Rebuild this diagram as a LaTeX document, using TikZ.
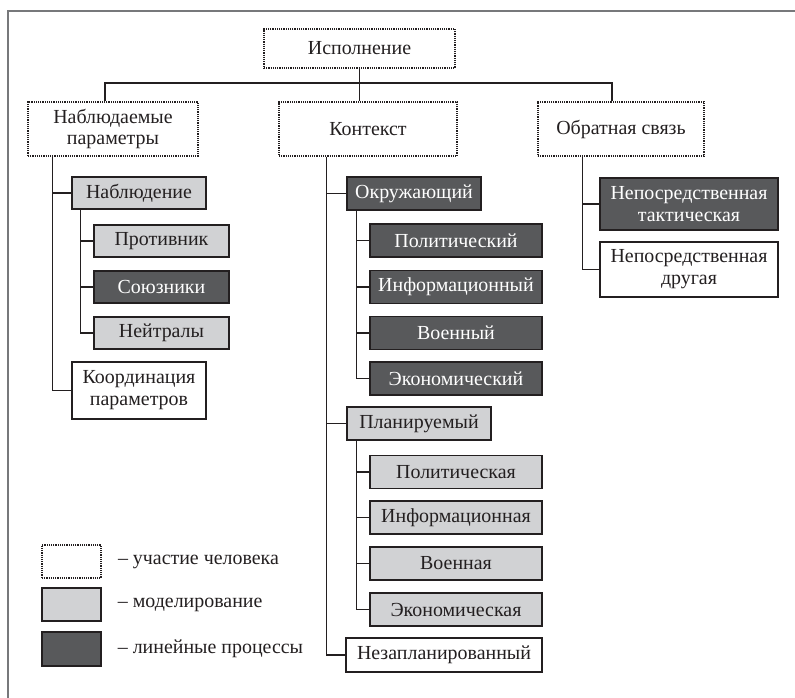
\documentclass[tikz,border=0pt]{standalone}
\usepackage{fontspec}
\setmainfont{Liberation Serif}
\usetikzlibrary{positioning}
\definecolor{lightfill}{HTML}{D1D2D4}
\definecolor{darkfill}{HTML}{58595B}
\definecolor{framegray}{HTML}{77787B}
\definecolor{inkblack}{HTML}{231F20}

\tikzset{
  box/.style={draw=inkblack, text=inkblack, line width=1.3bp, align=center, inner sep=2bp,
    font=\fontsize{20}{22}\selectfont},
  human/.style={box, line width=1.6bp, dash pattern=on 1.2bp off 1bp},
  model/.style={box, fill=lightfill},
  linear/.style={box, fill=darkfill, text=white},
  plain/.style={box, fill=white},
  link/.style={draw=inkblack, line width=1.2bp},
  topbox/.style={minimum height=54bp},
  leftsub/.style={minimum width=135bp, minimum height=32bp},
  midsub/.style={minimum width=172bp, minimum height=33bp},
  legbox/.style={minimum width=59bp, minimum height=33bp},
  legtext/.style={anchor=west, text=inkblack, inner sep=0pt, font=\fontsize{20}{22}\selectfont},
}

\begin{document}
\begin{tikzpicture}[x=1bp, y=-1bp]
  \useasboundingbox (0,0) rectangle (795,698);
  \draw[framegray, line width=1.5bp] (8,698) -- (8,11) -- (795,11);

  % top level
  \node[human, minimum width=191bp, minimum height=39bp] (ispoln) at (359.5,48.5) {Исполнение};
  \node[human, topbox, minimum width=170bp] (nabl) at (113,129) {Наблюдаемые\\параметры};
  \node[human, topbox, minimum width=178bp] (kont) at (368,129) {Контекст};
  \node[human, topbox, minimum width=166bp] (obr) at (621,129) {Обратная связь};
  \coordinate (bus) at (359.5,83);

  % left column
  \node[model, minimum width=134bp, minimum height=32bp] (nablyud) at (139,193) {Наблюдение};
  \node[model, leftsub] (protiv) at (161.5,241) {Противник};
  \node[linear, leftsub] (soyuz) at (161.5,287) {Союзники};
  \node[model, leftsub] (neitr) at (161.5,333) {Нейтралы};
  \node[plain, minimum width=134bp, minimum height=57bp] (koord) at (139,390.5) {Координация\\параметров};

  % middle column
  \node[linear, minimum width=134bp, minimum height=33bp] (okr) at (414,193.5) {Окружающий};
  \node[linear, midsub] (polit1) at (456,240.5) {Политический};
  \node[linear, midsub] (inform1) at (456,287) {Информационный};
  \node[linear, midsub] (voen1) at (456,333) {Военный};
  \node[linear, midsub] (econ1) at (456,378.5) {Экономический};
  \node[model, minimum width=144bp, minimum height=33bp] (plan) at (419,423.5) {Планируемый};
  \node[model, midsub] (polit2) at (456,472) {Политическая};
  \node[model, midsub] (inform2) at (456,517.5) {Информационная};
  \node[model, midsub] (voen2) at (456,563.5) {Военная};
  \node[model, midsub] (econ2) at (456,609.5) {Экономическая};
  \node[plain, minimum width=196bp, minimum height=34bp] (nezapl) at (444,655) {Незапланированный};

  % right column
  \node[linear, minimum width=178bp, minimum height=52bp] (takt) at (689,204) {Непосредственная\\тактическая};
  \node[plain, minimum width=178bp, minimum height=55bp] (drug) at (689,269.5) {Непосредственная\\другая};

  % connectors
  \draw[link] (ispoln.south) -- (ispoln.south |- kont.north);
  \draw[link] ([xshift=-8bp]nabl.north) |- (bus) -| ([xshift=-9bp]obr.north);
  \draw[link] ([xshift=25bp]nabl.south west) |- (nablyud.west);
  \draw[link] ([xshift=25bp]nabl.south west) |- (koord.west);
  \draw[link] ([xshift=9bp]nablyud.south west) |- (protiv.west);
  \draw[link] ([xshift=9bp]nablyud.south west) |- (soyuz.west);
  \draw[link] ([xshift=9bp]nablyud.south west) |- (neitr.west);
  \draw[link] ([xshift=48bp]kont.south west) |- (okr.west);
  \draw[link] ([xshift=48bp]kont.south west) |- (plan.west);
  \draw[link] ([xshift=48bp]kont.south west) |- (nezapl.west);
  \draw[link] ([xshift=10bp]okr.south west) |- (polit1.west);
  \draw[link] ([xshift=10bp]okr.south west) |- (inform1.west);
  \draw[link] ([xshift=10bp]okr.south west) |- (voen1.west);
  \draw[link] ([xshift=10bp]okr.south west) |- (econ1.west);
  \draw[link] ([xshift=10bp]plan.south west) |- (polit2.west);
  \draw[link] ([xshift=10bp]plan.south west) |- (inform2.west);
  \draw[link] ([xshift=10bp]plan.south west) |- (voen2.west);
  \draw[link] ([xshift=10bp]plan.south west) |- (econ2.west);
  \draw[link] ([xshift=45bp]obr.south west) |- (takt.west);
  \draw[link] ([xshift=45bp]obr.south west) |- (drug.west);

  % legend
  \node[human, legbox] (leg1) at (71.5,561.5) {};
  \node[model, legbox] (leg2) at (71.5,604.5) {};
  \node[linear, legbox, minimum height=34bp] (leg3) at (71.5,649) {};
  \node[legtext, right=16bp of leg1] (legt1) {– участие человека};
  \node[legtext, right=16bp of leg2] (legt2) {– моделирование};
  \node[legtext, right=16bp of leg3] (legt3) {– линейные процессы};
\end{tikzpicture}
\end{document}
